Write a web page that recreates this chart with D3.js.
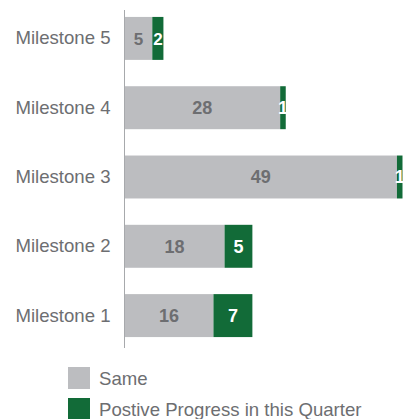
<!DOCTYPE html>
<html>
<head>
<meta charset="utf-8">
<script src="https://cdn.jsdelivr.net/npm/d3@7"></script>
<style>
  body { margin: 0; background: #fff; }
  svg { display: block; font-family: "Liberation Sans", Arial, sans-serif; }
</style>
</head>
<body>
<svg id="chart"></svg>
<script>
// data - top to bottom som i billedet
const categories = ["Milestone 5", "Milestone 4", "Milestone 3", "Milestone 2", "Milestone 1"];
const sameValues = [5, 28, 49, 18, 16];
const progressValues = [2, 1, 1, 5, 7];
const seriesNames = ["Same", "Postive Progress in this Quarter"];

const w = 407, h = 419;
const colors = ["#bcbdc0", "#126b38"];
const labelColors = ["#6d6e71", "#ffffff"];

const svg = d3.select("#chart").attr("width", w).attr("height", h);

const rows = categories.map(function (c, i) {
  return { cat: c, same: sameValues[i], progress: progressValues[i] };
});

const stack = d3.stack().keys(["same", "progress"]);
const series = stack(rows);

const xScale = d3.scaleLinear().domain([0, 50]).range([124.5, 402.5]);

const yScale = d3.scaleBand()
  .domain(categories)
  .range([10, 344])
  .paddingInner(0.38)
  .paddingOuter(0.1);

// bars
const groups = svg.selectAll("g.series")
  .data(series)
  .enter()
  .append("g")
  .attr("class", "series")
  .attr("fill", function (d, i) { return colors[i]; });

groups.selectAll("rect")
  .data(function (d) { return d; })
  .enter()
  .append("rect")
  .attr("x", function (d) { return xScale(d[0]); })
  .attr("y", function (d) { return yScale(d.data.cat); })
  .attr("width", function (d) { return xScale(d[1]) - xScale(d[0]); })
  .attr("height", yScale.bandwidth());

// value labels
series.forEach(function (s, si) {
  svg.append("g")
    .selectAll("text")
    .data(s)
    .enter()
    .append("text")
    .attr("x", function (d) { return (xScale(d[0]) + xScale(d[1])) / 2; })
    .attr("y", function (d) { return yScale(d.data.cat) + yScale.bandwidth() / 2; })
    .attr("dy", "0.36em")
    .attr("text-anchor", "middle")
    .attr("font-weight", "bold")
    .attr("font-size", function (d) { return d.data.cat === "Milestone 5" ? "17px" : "18px"; })
    .attr("fill", labelColors[si])
    .text(function (d) { return d[1] - d[0]; });
});

// y akse
const yAxis = d3.axisLeft(yScale).tickSize(0).tickPadding(14);
const ax = svg.append("g")
  .attr("transform", "translate(124.5,0)")
  .call(yAxis);
ax.select(".domain").remove();
ax.selectAll("text")
  .attr("font-size", "18.6px")
  .attr("fill", "#6d6e71")
  .style("font-family", "'Liberation Sans', Arial, sans-serif");

svg.append("line")
  .attr("x1", 124.5).attr("x2", 124.5)
  .attr("y1", 10).attr("y2", 348)
  .attr("stroke", "#a7a9ac")
  .attr("stroke-width", 1);

// legend
const legend = svg.append("g")
  .selectAll("g")
  .data(seriesNames)
  .enter()
  .append("g")
  .attr("transform", function (d, i) { return "translate(68," + (367 + i * 31) + ")"; });

legend.append("rect")
  .attr("width", 22)
  .attr("height", 22)
  .attr("fill", function (d, i) { return colors[i]; });

legend.append("text")
  .attr("x", 31)
  .attr("y", 11)
  .attr("dy", "0.36em")
  .attr("font-size", "18.6px")
  .attr("fill", "#6d6e71")
  .text(function (d) { return d; });
</script>
</body>
</html>
